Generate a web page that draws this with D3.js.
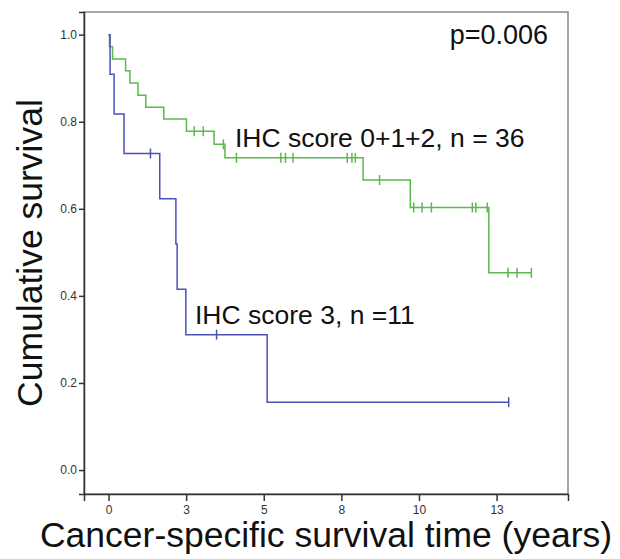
<!DOCTYPE html>
<html>
<head>
<meta charset="utf-8">
<script src="https://cdn.jsdelivr.net/npm/d3@7"></script>
<style>
  html, body { margin: 0; padding: 0; background: #fff; }
  svg { display: block; font-family: "Liberation Sans", Arial, sans-serif; }
</style>
</head>
<body>
<svg id="chart" width="620" height="559"></svg>
<script>
// ---- data ----
const greenTimes = [0, 0.03, 0.13, 0.55, 0.69, 0.95, 1.20, 1.78, 2.51, 3.40, 3.75, 8.20, 9.72, 12.25];
const greenSurv  = [1.0, 0.972, 0.944, 0.917, 0.889, 0.861, 0.833, 0.806, 0.778, 0.748, 0.717, 0.666, 0.603, 0.453];
const greenCensor = [2.76, 3.05, 3.70, 4.12, 5.55, 5.70, 5.94, 7.69, 7.84, 7.95, 8.73, 9.83, 10.10, 10.40, 11.72, 11.83, 12.20, 12.87, 13.16, 13.62];
const greenEnd = 13.62;

const blueTimes = [0, 0.05, 0.18, 0.50, 1.65, 2.17, 2.21, 2.49, 5.11];
const blueSurv  = [1.0, 0.909, 0.818, 0.727, 0.623, 0.519, 0.415, 0.311, 0.156];
const blueCensor = [1.35, 3.48, 12.89];
const blueEnd = 12.89;

const xTicks = [0, 2.5, 5, 7.5, 10, 12.5];
const xTickLabels = ["0", "3", "5", "8", "10", "13"];
const yTicks = [0, 0.2, 0.4, 0.6, 0.8, 1.0];
const yTickLabels = ["0.0", "0.2", "0.4", "0.6", "0.8", "1.0"];

const greenLabel = "IHC score 0+1+2, n = 36";
const blueLabel = "IHC score 3, n =11";
const pLabel = "p=0.006";
const xTitle = "Cancer-specific survival time (years)";
const yTitle = "Cumulative survival";

// ---- layout ----
const frame = { left: 84, right: 568, top: 12, bottom: 494 };
const svg = d3.select("#chart");

const x = d3.scaleLinear().domain([-0.79, 14.8]).range([frame.left, frame.right]);
const y = d3.scaleLinear().domain([-0.055, 1.052]).range([frame.bottom, frame.top]);

// frame
svg.append("rect")
  .attr("x", frame.left).attr("y", frame.top)
  .attr("width", frame.right - frame.left).attr("height", frame.bottom - frame.top)
  .attr("fill", "none").attr("stroke", "#8a8a8a").attr("stroke-width", 1.5);

// axes
const yAxis = d3.axisLeft(y).tickValues(yTicks)
  .tickFormat((d, i) => yTickLabels[i]).tickSize(5).tickPadding(2);
const gy = svg.append("g").attr("transform", `translate(${frame.left},0)`).call(yAxis);
gy.select(".domain").attr("stroke", "#333").attr("stroke-width", 1.5);
gy.selectAll(".tick line").attr("stroke", "#333").attr("stroke-width", 1.5);
gy.selectAll(".tick text").attr("font-size", 12).attr("fill", "#333")
  .attr("font-family", "Liberation Sans, Arial, sans-serif");

const xAxis = d3.axisBottom(x).tickValues(xTicks)
  .tickFormat((d, i) => xTickLabels[i]).tickSize(7).tickPadding(4);
const gx = svg.append("g").attr("transform", `translate(0,${frame.bottom})`).call(xAxis);
gx.select(".domain").attr("stroke", "#333").attr("stroke-width", 1.5);
gx.selectAll(".tick line").attr("stroke", "#333").attr("stroke-width", 1.5);
gx.selectAll(".tick text").attr("font-size", 12).attr("fill", "#333")
  .attr("font-family", "Liberation Sans, Arial, sans-serif");

// curves
const line = d3.line().x(d => x(d[0])).y(d => y(d[1])).curve(d3.curveStepAfter);

function survAt(times, surv, t) {
  let s = surv[0];
  for (let i = 0; i < times.length; i++) if (times[i] <= t) s = surv[i];
  return s;
}

function drawCurve(times, surv, censor, tEnd, color) {
  const pts = times.map((t, i) => [t, surv[i]]);
  pts.push([tEnd, surv[surv.length - 1]]);
  svg.append("path").datum(pts)
    .attr("d", line).attr("fill", "none")
    .attr("stroke", color).attr("stroke-width", 1.5);
  svg.append("g").selectAll("line").data(censor).join("line")
    .attr("x1", d => x(d)).attr("x2", d => x(d))
    .attr("y1", d => y(survAt(times, surv, d)) - 5)
    .attr("y2", d => y(survAt(times, surv, d)) + 5)
    .attr("stroke", color).attr("stroke-width", 1.5);
}

drawCurve(greenTimes, greenSurv, greenCensor, greenEnd, "#5cb84f");
drawCurve(blueTimes, blueSurv, blueCensor, blueEnd, "#4a52b5");

// annotations
svg.append("text").attr("x", 548).attr("y", 44).attr("text-anchor", "end")
  .attr("font-size", 27).attr("fill", "#111").text(pLabel);
svg.append("text").attr("x", 235).attr("y", 147)
  .attr("font-size", 26.5).attr("fill", "#111").text(greenLabel);
svg.append("text").attr("x", 195).attr("y", 324)
  .attr("font-size", 26.5).attr("fill", "#111").text(blueLabel);

// titles
svg.append("text").attr("x", (frame.left + frame.right) / 2).attr("y", 547)
  .attr("text-anchor", "middle").attr("font-size", 35.5).attr("fill", "#111").text(xTitle);
svg.append("text")
  .attr("transform", `translate(42,${(frame.top + frame.bottom) / 2}) rotate(-90)`)
  .attr("text-anchor", "middle").attr("font-size", 35.5).attr("fill", "#111").text(yTitle);
</script>
</body>
</html>
